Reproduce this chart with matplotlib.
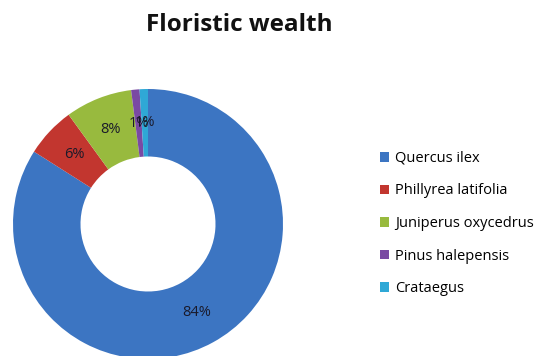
import matplotlib
matplotlib.use("Agg")
import matplotlib.pyplot as plt
import numpy as np

species = ["Quercus ilex", "Phillyrea latifolia", "Juniperus oxycedrus",
           "Pinus halepensis", "Crataegus"]
shares = [84, 6, 8, 1, 1]
colors = ["#3C75C2", "#C2362F", "#98BA3E", "#7A4AA3", "#2FA8D6"]

W, H = 540, 356
fig = plt.figure(figsize=(W / 100, H / 100), dpi=100)
fig.patch.set_facecolor("white")

# donut axes placed so the ring runs slightly past the bottom edge
cx, cy, r = 148, 224, 135
ax = fig.add_axes([(cx - r) / W, (H - cy - r) / H, 2 * r / W, 2 * r / H])

wedges, _ = ax.pie(shares, colors=colors, startangle=90, counterclock=False,
                   radius=1.0, wedgeprops=dict(width=0.5, linewidth=0),
                   labels=None)
ax.set_xlim(-1, 1)
ax.set_ylim(-1, 1)
ax.set_aspect("equal")
ax.axis("off")

font = "Open Sans"
for w, v in zip(wedges, shares):
    ang = np.deg2rad((w.theta1 + w.theta2) / 2)
    rr = 0.75
    ax.text(rr * np.cos(ang), rr * np.sin(ang), f"{v}%", ha="center",
            va="center", fontsize=10.5, color="#1a1a2a", family=font)

fig.text(239 / W, 1 - 25 / H, "Floristic wealth", ha="center", va="center",
         fontsize=17.5, fontweight="bold", family=font, color="#111111")

leg = fig.legend(wedges, species, loc="upper left",
                 bbox_to_anchor=(380 / W, 1 - 151 / H), frameon=False,
                 prop=dict(family=font, size=10.5), handlelength=0.65,
                 handleheight=0.65, handletextpad=0.4, labelspacing=1.2,
                 borderaxespad=0, borderpad=0)

fig.savefig("out.png", dpi=100, facecolor="white")
